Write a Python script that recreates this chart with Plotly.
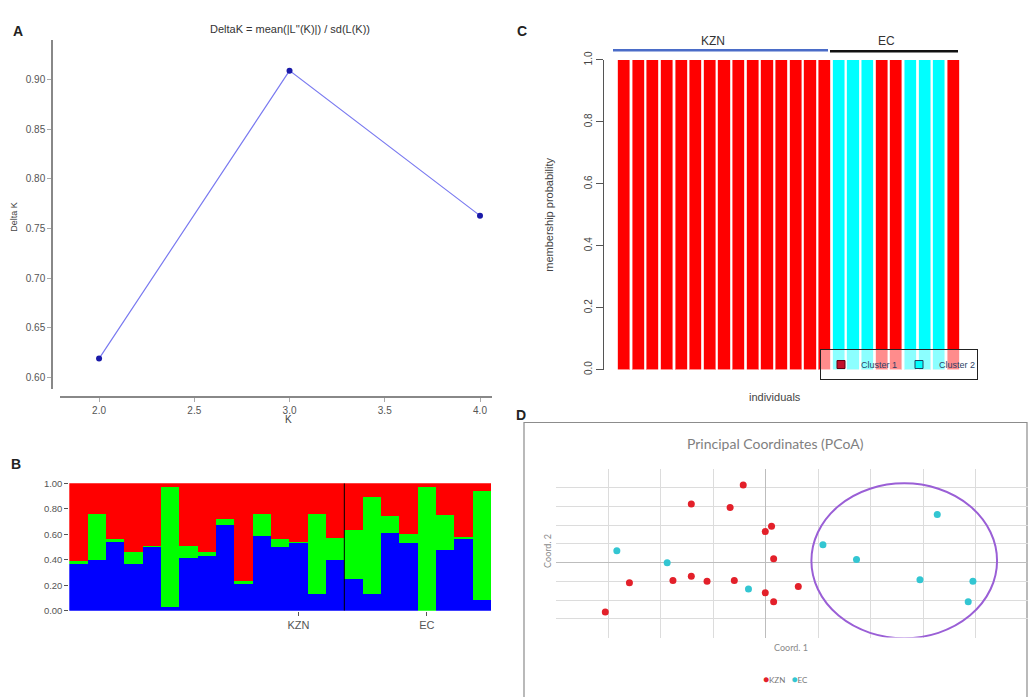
import plotly.graph_objects as go

W, H = 1030, 697
def fx(px): return px / W
def fy(py): return 1 - py / H

# ---------------- Data ----------------
# Panel A: Evanno DeltaK
k_values = [2.0, 3.0, 4.0]
delta_k = [0.619, 0.909, 0.763]
a_xticks = [2.0, 2.5, 3.0, 3.5, 4.0]
a_yticks = [0.60, 0.65, 0.70, 0.75, 0.80, 0.85, 0.90]

# Panel B: STRUCTURE K=3 (15 KZN + 8 EC individuals)
b_blue = [0.37, 0.40, 0.54, 0.37, 0.50, 0.03, 0.41, 0.43, 0.67, 0.21, 0.59, 0.50, 0.53, 0.13, 0.40,
          0.25, 0.13, 0.61, 0.53, 0.00, 0.48, 0.56, 0.08]
b_green = [0.02, 0.36, 0.02, 0.09, 0.01, 0.94, 0.10, 0.03, 0.05, 0.02, 0.17, 0.06, 0.01, 0.63, 0.17,
           0.38, 0.76, 0.13, 0.07, 0.97, 0.27, 0.02, 0.86]
b_red = [round(1 - b - g, 2) for b, g in zip(b_blue, b_green)]
b_n_kzn = 15
b_group_ticks = [12.5, 19.5]
b_group_labels = ["KZN", "EC"]
b_yticks = [0.0, 0.2, 0.4, 0.6, 0.8, 1.0]

# Panel C: membership probability (15 KZN + 9 EC)
c_cluster1 = [1.0] * 15 + [0.0, 0.0, 0.0, 1.0, 1.0, 0.0, 0.0, 0.0, 1.0]
c_cluster2 = [round(1 - v, 1) for v in c_cluster1]
c_yticks = [0.0, 0.2, 0.4, 0.6, 0.8, 1.0]

# Panel D: PCoA
kzn_x = [-0.43, -1.42, -0.68, 0.11, -0.01, 0.15, -2.60, -1.77, -1.42, -1.12, -0.60, -0.01, 0.15, -3.06, 0.62]
kzn_y = [4.15, 3.14, 2.95, 1.95, 1.66, 0.21, -1.08, -0.96, -0.72, -0.99, -0.96, -1.61, -2.09, -2.63, -1.27]
ec_x = [-2.84, -1.88, -0.33, 1.09, 1.73, 3.27, 2.94, 3.95, 3.86]
ec_y = [0.64, 0.00, -1.41, 0.96, 0.17, 2.57, -0.91, -0.99, -2.09]
ellipse_center = (2.64, 0.10)
ellipse_radii = (1.77, 4.14)

KZN_COLOR = "#e3202a"
EC_COLOR = "#33c6d2"
FONT = "Liberation Sans"
fig = go.Figure()

# ---------------- Panel A ----------------
fig.add_trace(go.Scatter(x=k_values, y=delta_k, mode="lines+markers",
                         line=dict(color="#7a7af0", width=1.2),
                         marker=dict(color="#1a1aa8", size=6),
                         xaxis="x", yaxis="y", showlegend=False))

# ---------------- Panel B ----------------
b_x = [i + 0.5 for i in range(len(b_blue))]
for vals, col in [(b_blue, "#0000ff"), (b_green, "#00ff00"), (b_red, "#ff0000")]:
    fig.add_trace(go.Bar(x=b_x, y=vals, width=1, marker=dict(color=col, line=dict(width=0)),
                         xaxis="x2", yaxis="y2", showlegend=False))

# ---------------- Panel C ----------------
c_x = list(range(len(c_cluster1)))
fig.add_trace(go.Bar(x=c_x, y=c_cluster1, width=0.84,
                     marker=dict(color="#ff0000", line=dict(width=0.6, color="#ffb3b3")),
                     xaxis="x3", yaxis="y3", showlegend=False))
fig.add_trace(go.Bar(x=c_x, y=c_cluster2, width=0.84,
                     marker=dict(color="#00ffff", line=dict(width=0.6, color="#c8ffff")),
                     xaxis="x3", yaxis="y3", showlegend=False))
fig.add_trace(go.Scatter(x=[None], y=[None], mode="markers", name="Cluster 1",
                         marker=dict(symbol="square", size=8, color="#c0102a",
                                     line=dict(color="#600010", width=1)),
                         xaxis="x3", yaxis="y3", legend="legend"))
fig.add_trace(go.Scatter(x=[None], y=[None], mode="markers", name="Cluster 2",
                         marker=dict(symbol="square", size=8, color="#00ffff",
                                     line=dict(color="#204060", width=1)),
                         xaxis="x3", yaxis="y3", legend="legend"))

# ---------------- Panel D ----------------
fig.add_trace(go.Scatter(x=kzn_x, y=kzn_y, mode="markers", name="KZN",
                         marker=dict(color=KZN_COLOR, size=7, line=dict(width=0)),
                         xaxis="x4", yaxis="y4", showlegend=False))
fig.add_trace(go.Scatter(x=ec_x, y=ec_y, mode="markers", name="EC",
                         marker=dict(color=EC_COLOR, size=7, line=dict(width=0)),
                         xaxis="x4", yaxis="y4", showlegend=False))

# ---------------- Layout ----------------
# C x mapping: bar i centre at 623.7 + 14.33*i px
c_px0, c_px1 = 610, 965
c_rng = [(c_px0 - 623.7) / 14.33, (c_px1 - 623.7) / 14.33]

tick_font = dict(family=FONT, size=10, color="#555")

fig.update_layout(
    width=W, height=H, autosize=False, margin=dict(l=0, r=0, t=0, b=0),
    paper_bgcolor="white", plot_bgcolor="rgba(0,0,0,0)",
    barmode="stack", font=dict(family=FONT, color="#333"),
    xaxis=dict(domain=[fx(60), fx(492)], range=[1.795, 4.063], anchor="free", position=fy(396),
               showline=True, linecolor="#888", linewidth=1.5, ticks="outside", ticklen=4,
               tickcolor="#aaa", tickvals=a_xticks, tickformat=".1f", tickfont=tick_font,
               showgrid=False, zeroline=False),
    yaxis=dict(domain=[fy(388), fy(32)], range=[0.5882, 0.9395], anchor="free", position=fx(52),
               showline=True, linecolor="#888", linewidth=1.5, ticks="outside", ticklen=4,
               tickcolor="#aaa", tickvals=a_yticks, tickformat=".2f", tickfont=tick_font,
               showgrid=False, zeroline=False),
    xaxis2=dict(domain=[fx(69.3), fx(491)], range=[0, len(b_blue)], anchor="y2",
                tickvals=b_group_ticks, ticktext=b_group_labels, ticks="outside", ticklen=4,
                tickcolor="#555", tickfont=dict(family=FONT, size=11, color="#555"),
                showgrid=False, zeroline=False, showline=False),
    yaxis2=dict(domain=[fy(614), fy(484)], range=[0, 1], anchor="x2",
                tickvals=b_yticks, tickformat=".2f", ticks="outside", ticklen=4, tickcolor="#555",
                tickfont=dict(family=FONT, size=9.5, color="#555"),
                showgrid=False, zeroline=False, showline=False),
    xaxis3=dict(domain=[fx(c_px0), fx(c_px1)], range=c_rng, anchor="y3",
                showticklabels=False, ticks="", showgrid=False, zeroline=False, showline=False),
    yaxis3=dict(domain=[fy(368), fy(52)], range=[0, 1], anchor="free", position=fx(603),
                showline=True, linecolor="#555", linewidth=1, ticks="outside", ticklen=7,
                tickcolor="#555", tickvals=c_yticks, tickformat=".1f", tickangle=-90,
                tickfont=dict(family=FONT, size=10, color="#444"), showgrid=False, zeroline=False),
    xaxis4=dict(domain=[fx(556), fx(1028)], range=[-4, 5], anchor="y4", dtick=1, tick0=0,
                showgrid=True, gridcolor="#dcdcdc", gridwidth=1, zeroline=True,
                zerolinecolor="#bdbdbd", zerolinewidth=1, showticklabels=False, ticks="",
                showline=False),
    yaxis4=dict(domain=[fy(641.4), fy(469.5)], range=[-4, 5], anchor="x4", dtick=1, tick0=0,
                showgrid=True, gridcolor="#dcdcdc", gridwidth=1, zeroline=True,
                zerolinecolor="#bdbdbd", zerolinewidth=1, showticklabels=False, ticks="",
                showline=False),
    legend=dict(x=fx(820), y=fy(347), xanchor="left", yanchor="top", orientation="h",
                traceorder="normal", bordercolor="#222", borderwidth=1,
                bgcolor="rgba(255,255,255,0.55)", itemwidth=30,
                entrywidth=33, entrywidthmode="pixels",
                font=dict(family=FONT, size=9, color="#2d3f66"), tracegroupgap=0),
)

shapes = [
    # B: group divider
    dict(type="line", xref="x2", yref="y2", x0=b_n_kzn, x1=b_n_kzn, y0=0, y1=1,
         line=dict(color="#000", width=1)),
    # C: group bars above
    dict(type="line", xref="paper", yref="paper", x0=fx(613), x1=fx(828), y0=fy(42), y1=fy(42),
         line=dict(color="#4a6cc8", width=2.5)),
    dict(type="line", xref="paper", yref="paper", x0=fx(830), x1=fx(958), y0=fy(43), y1=fy(43),
         line=dict(color="#111", width=2.5)),
    # D: frame
    dict(type="rect", xref="paper", yref="paper", x0=fx(524), x1=fx(1027), y0=-0.01, y1=fy(422),
         line=dict(color="#8c8c8c", width=1.2), fillcolor="rgba(0,0,0,0)", layer="below"),
    # D: ellipse
    dict(type="circle", xref="x4", yref="y4",
         x0=ellipse_center[0] - ellipse_radii[0], x1=ellipse_center[0] + ellipse_radii[0],
         y0=ellipse_center[1] - ellipse_radii[1], y1=ellipse_center[1] + ellipse_radii[1],
         line=dict(color="#9a5fd6", width=2)),
]
fig.update_layout(shapes=shapes)

def ann(text, px, py, size=11, color="#333", bold=False, angle=0, family=FONT, xanchor="center"):
    return dict(text=("<b>%s</b>" % text) if bold else text, x=fx(px), y=fy(py),
                xref="paper", yref="paper", showarrow=False, xanchor=xanchor, yanchor="middle",
                textangle=angle, font=dict(family=family, size=size, color=color))

d_legend_text = ("<span style='color:%s;font-size:10px'>●</span>KZN&nbsp;&nbsp;&nbsp;"
                 "<span style='color:%s;font-size:10px'>●</span>EC") % (KZN_COLOR, EC_COLOR)

annotations = [
    ann("A", 18, 22, size=14, color="#222", bold=True),
    ann("B", 16, 464, size=14, color="#222", bold=True),
    ann("C", 522, 22, size=14, color="#222", bold=True),
    ann("D", 521, 414, size=14, color="#222", bold=True),
    ann("DeltaK = mean(|L''(K)|) / sd(L(K))", 290, 20, size=11, color="#333"),
    ann("K", 288, 419, size=10, color="#444"),
    ann("Delta K", 14, 212, size=9, color="#444", angle=-90),
    ann("KZN", 713, 33, size=12, color="#333"),
    ann("EC", 886, 33, size=12, color="#333"),
    ann("membership probability", 549, 210, size=11, color="#444", angle=-90),
    ann("individuals", 775, 396, size=11, color="#444"),
    ann("Principal Coordinates (PCoA)", 775, 443, size=14, color="#7f7f7f", family="Lato"),
    ann("Coord. 1", 791, 652, size=9, color="#8a8a8a", family="Lato"),
    ann("Coord. 2", 548, 553, size=9, color="#8a8a8a", family="Lato", angle=-90),
    ann(d_legend_text, 785, 684, size=8, color="#777", family="Lato"),
]
fig.update_layout(annotations=annotations)

fig.write_html("out.html", config={"responsive": False, "displayModeBar": False},
               post_script="document.body.style.margin='0';document.body.style.overflow='hidden';")
